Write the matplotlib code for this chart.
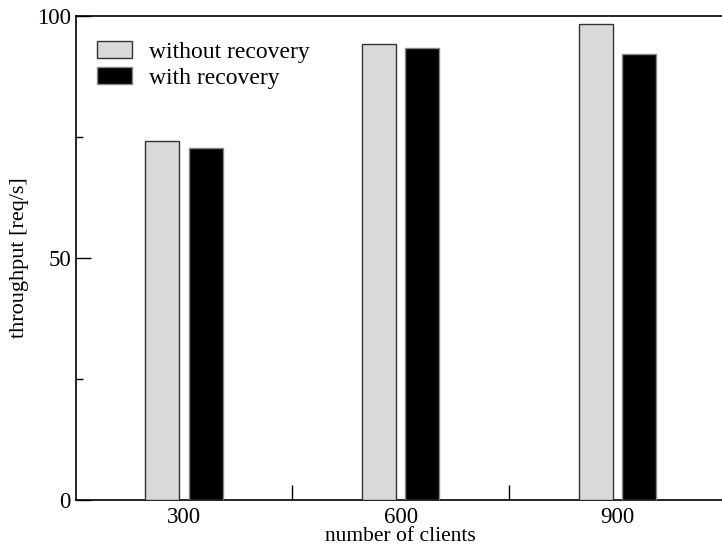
import matplotlib

matplotlib.use("Agg")
import matplotlib.pyplot as plt
import numpy as np

clients = [300, 600, 900]
without_recovery = [74.1, 94.2, 98.3]
with_recovery = [72.7, 93.3, 92.1]
series_labels = ["without recovery", "with recovery"]

plt.rcParams["font.family"] = ["Liberation Serif", "DejaVu Serif"]

fig = plt.figure(figsize=(7.22, 5.47), dpi=100)
ax = fig.add_axes([0.105, 0.086, 0.90, 0.885])

x = np.array(clients, dtype=float)
width = 47
ax.bar(x - 30, without_recovery, width, color="#d9d9d9", edgecolor="#333333",
       linewidth=1.0, label=series_labels[0], zorder=3)
ax.bar(x + 30, with_recovery, width, color="black", edgecolor="#888888",
       linewidth=1.0, label=series_labels[1], zorder=3)

ax.set_xlim(150, 1050)
ax.set_ylim(0, 100)
ax.set_xticks(clients)
ax.set_xticks([450, 750], minor=True)
ax.set_yticks([0, 50, 100])
ax.set_yticks([25, 75], minor=True)
ax.tick_params(axis="both", which="both", direction="in", width=1.0, labelsize=16.5)
ax.tick_params(axis="y", which="major", length=11)
ax.tick_params(axis="y", which="minor", length=5)
ax.tick_params(axis="x", which="minor", length=11)
ax.tick_params(axis="x", which="major", length=0, pad=5)

for side in ax.spines.values():
    side.set_linewidth(1.2)

ax.set_xlabel("number of clients", fontsize=15.5, labelpad=-1)
ax.set_ylabel("throughput [req/s]", fontsize=16, labelpad=6)

ax.legend(loc="upper left", bbox_to_anchor=(0.0, 0.992), frameon=False,
          fontsize=17, handlelength=1.5, handleheight=0.75, borderaxespad=0.6,
          borderpad=0.3, labelspacing=0.18, handletextpad=0.7)

fig.savefig("out.png", dpi=100)
